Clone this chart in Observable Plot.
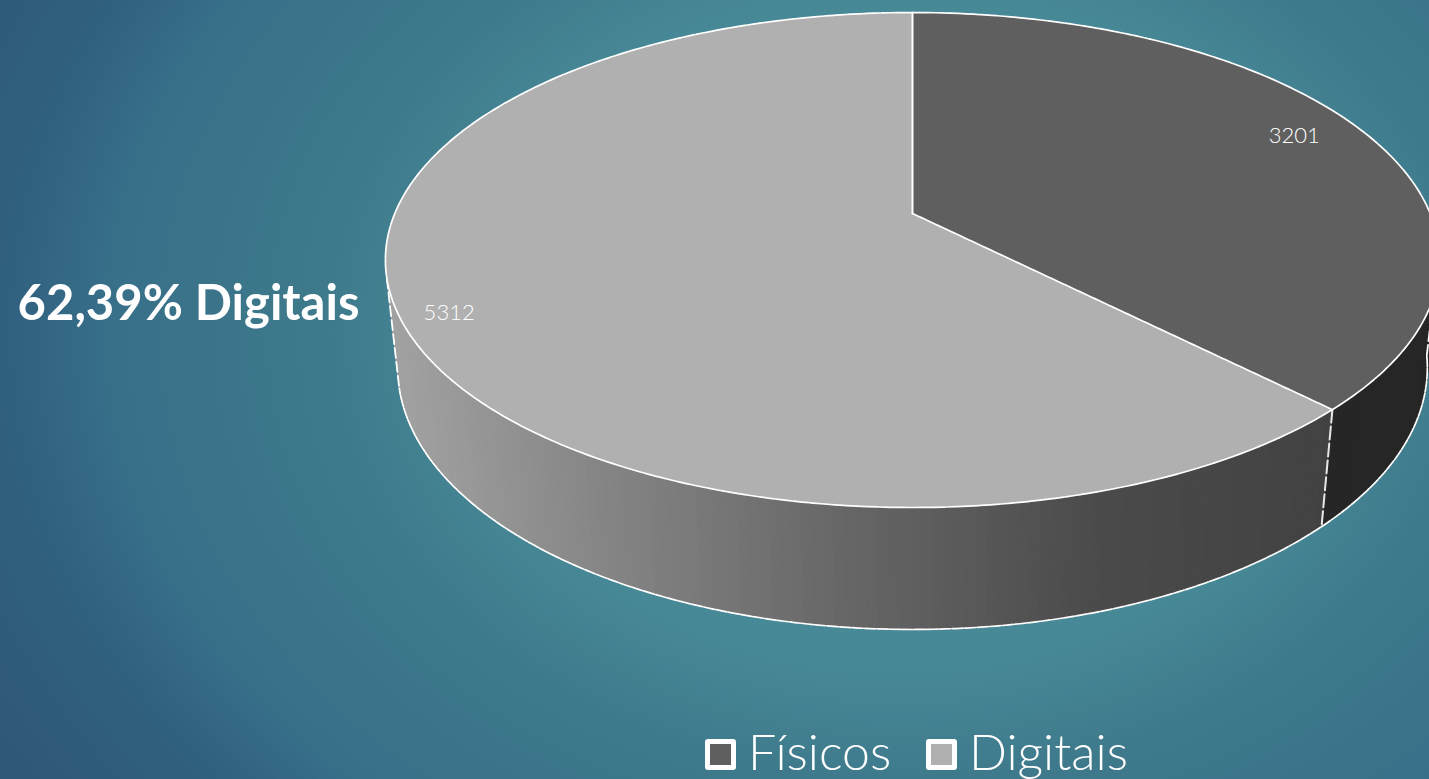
<!DOCTYPE html>
<html>
<head>
<meta charset="utf-8">
<script src="https://cdn.jsdelivr.net/npm/d3@7"></script>
<script src="https://cdn.jsdelivr.net/npm/@observablehq/plot@0.6"></script>
<style>
html,body{margin:0;padding:0;width:1429px;height:779px;overflow:hidden;
 background:radial-gradient(ellipse 1150px 900px at 900px 330px, #4c919e 0%, #478896 38%, #3e7a8c 50%, #3b7489 60%, #38708a 68%, #30607f 78%, #2f5878 90%, #2d5476 100%);}
#chart svg{display:block;overflow:hidden;background:transparent}
#legend{position:absolute;left:0;top:720px;width:1429px;height:59px;color:#fff;
 font-family:Lato,sans-serif;font-weight:300;font-size:50px;line-height:59px}
#legend span{position:absolute;top:2px;white-space:nowrap}
#legend i{position:absolute;top:19px;width:21px;height:21px;border:5px solid #fff;border-radius:3px}
</style>
</head>
<body>
<div id="chart"></div>
<div id="legend"></div>
<script>
const categories = ["Físicos", "Digitais"];
const values = [3201, 5312];
const topColors = ["#5f5f5f", "#b0b0b0"];
const sideDark = "#262626";
const valueLabels = ["3201", "5312"];
const labelRadius = [0.845, 0.905];
const labelShift = [-5, 12];
const headline = "62,39% Digitais";

// perspective of the tilted disc
const cx = 912, k = 517.7, a = 198.7, b = 213, c = -0.188, depthY = 113.5, depthW = 0.023;
function project(theta, r, h) {
  const u = r * Math.sin(theta), v = -r * Math.cos(theta);
  const w = 1 + c * v + h * depthW;
  return {x: cx + k * u / w, y: (a * v + b + h * depthY) / w};
}
const rad = d => d * Math.PI / 180;
const arcs = d3.pie().sort(null)(values);
const angles = t0 => t1 => d3.range(0, 1.0001, 1 / Math.max(2, Math.round((t1 - t0) / rad(1)))).map(f => t0 + (t1 - t0) * f);
const arcPts = (t0, t1, r, h) => angles(t0)(t1).map(t => project(t, r, h));

// top face slices
const faces = arcs.flatMap((s, i) => [
  {...project(0, 0, 0), id: i, color: topColors[i]},
  ...arcPts(s.startAngle, s.endAngle, 1, 0).map(p => ({...p, id: i, color: topColors[i]}))
]);

// side wall, drawn as narrow closed strips so the shade can vary along it
const boundary = arcs[0].endAngle;
const sideEnd = rad(255), sideStart = rad(98);
const shade = d3.scaleLinear().domain([396, 600, 850, 1100, 1330]).range(["#a3a3a3", "#868686", "#666666", "#4a4a4a", "#424242"]);
const strips = [];
let sid = 0;
function addStrips(t0, t1, colorOf) {
  const ts = angles(t0)(t1);
  for (let i = 0; i < ts.length - 1; i++) {
    const p = [project(ts[i], 1, 0), project(ts[i + 1], 1, 0), project(ts[i + 1], 1, 1), project(ts[i], 1, 1)];
    const col = colorOf((p[2].x + p[3].x) / 2);
    [...p, p[0]].forEach(q => strips.push({...q, id: sid, color: col}));
    sid++;
  }
}
addStrips(sideStart, boundary, () => sideDark);
addStrips(boundary, sideEnd, shade);

const tag = (pts, id) => pts.map(p => ({...p, id}));
const topEdge = tag(arcPts(0, 2 * Math.PI, 1, 0), "top");
const lowerEdge = tag(arcPts(sideStart, sideEnd, 1, 1), "low");
const seam = tag([project(boundary, 1, 0), project(boundary, 1, 1)], "seam");
const leftEdge = tag([project(sideEnd, 1, 0), project(sideEnd, 1, 1)], "left");
const rightEdge = tag([project(sideStart, 1, 0), project(sideStart, 1, 1)], "right");
const radiusUp = tag([project(0, 0, 0), project(0, 1, 0)], "up");
const radiusDown = tag([project(0, 0, 0), project(boundary, 1, 0)], "down");

const labels = arcs.map((s, i) => {
  const p = project((s.startAngle + s.endAngle) / 2, labelRadius[i], 0);
  return {x: p.x, y: p.y + labelShift[i], text: valueLabels[i]};
});

const xy = {x: "x", y: "y"};
const chart = Plot.plot({
  width: 1429, height: 720, margin: 0,
  x: {domain: [0, 1429], range: [0, 1429], axis: null},
  y: {domain: [0, 720], range: [0, 720], axis: null},
  color: {type: "identity"},
  style: {background: "transparent"},
  marks: [
    Plot.line(strips, {...xy, z: "id", fill: "color", stroke: "color", strokeWidth: 1}),
    Plot.line(lowerEdge, {...xy, stroke: "#fff", strokeWidth: 1.7, strokeDasharray: "11 1.5"}),
    Plot.line(leftEdge, {...xy, stroke: "#fff", strokeWidth: 1.8, strokeDasharray: "10 4"}),
    Plot.line(rightEdge, {...xy, stroke: "#fff", strokeWidth: 1.8, strokeDasharray: "10 4"}),
    Plot.line(seam, {...xy, stroke: "#e8e8e8", strokeWidth: 2, strokeDasharray: "13 4"}),
    Plot.line(faces, {...xy, z: "id", fill: "color", stroke: "none"}),
    Plot.line(topEdge, {...xy, stroke: "#fff", strokeWidth: 1.7, strokeDasharray: "16 1"}),
    Plot.line(radiusUp, {...xy, stroke: "#fff", strokeWidth: 2}),
    Plot.line(radiusDown, {...xy, stroke: "#fff", strokeWidth: 1.7, strokeDasharray: "7 1"}),
    Plot.text(labels, {...xy, text: "text", fill: "#fff", fontSize: 22, fontFamily: "Lato, sans-serif", fontWeight: 300}),
    Plot.text([headline], {x: [188], y: [304], text: d => d, fill: "#fff", fontSize: 49, fontWeight: 700, fontFamily: "Lato, sans-serif"})
  ]
});
document.getElementById("chart").append(chart);

const legendX = [[705, 748], [926, 969]];
const legend = document.getElementById("legend");
categories.forEach((name, i) => {
  const sw = document.createElement("i");
  sw.style.left = legendX[i][0] + "px";
  sw.style.background = topColors[i];
  const t = document.createElement("span");
  t.style.left = legendX[i][1] + "px";
  t.textContent = name;
  legend.append(sw, t);
});
</script>
</body>
</html>
